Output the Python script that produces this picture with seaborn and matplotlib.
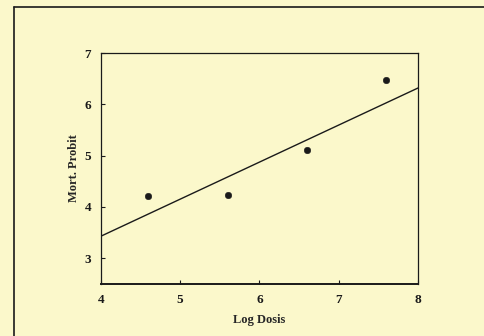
import matplotlib
matplotlib.use("Agg")
import matplotlib.pyplot as plt
import pandas as pd
import seaborn as sns

sns.set_style("ticks")
plt.rcParams["font.family"] = ["Liberation Serif", "DejaVu Serif"]

bgYellow = "#fbf8cb"
ink = "#1a1a1a"

# observed points
log_dosis = [4.6, 5.6, 6.6, 7.6]
probit = [4.22, 4.24, 5.12, 6.47]

# fitted probit line
fit_x = [4.0, 8.0]
fit_y = [3.43, 6.32]

df = pd.DataFrame({"dose": log_dosis, "probit": probit})
fit = pd.DataFrame({"dose": fit_x, "probit": fit_y})

fig = plt.figure(figsize=(4.85, 3.36), dpi=100)
fig.patch.set_facecolor(bgYellow)
ax = fig.add_axes([0.208, 0.155, 0.654, 0.687])
ax.set_facecolor(bgYellow)

sns.lineplot(data=fit, x="dose", y="probit", ax=ax, color=ink, linewidth=1.0)
sns.scatterplot(data=df, x="dose", y="probit", ax=ax, color=ink, s=22, edgecolor=ink, zorder=3)

ax.set_xlim(4, 8)
ax.set_ylim(2.5, 7)
ax.set_xticks([4, 5, 6, 7, 8])
ax.set_yticks([3, 4, 5, 6, 7])
ax.tick_params(direction="in", length=3, width=0.8, colors=ink, labelsize=9.5, pad=7)
for lab in ax.get_xticklabels() + ax.get_yticklabels():
    lab.set_fontweight("bold")

for side in ["top", "right", "left"]:
    ax.spines[side].set_visible(True)
    ax.spines[side].set_linewidth(0.9)
    ax.spines[side].set_color(ink)
ax.spines["bottom"].set_linewidth(1.4)
ax.spines["bottom"].set_color(ink)

ax.set_xlabel("Log Dosis", fontsize=9, fontweight="bold", labelpad=6)
ax.set_ylabel("Mort. Probit", fontsize=9, fontweight="bold", labelpad=3)

# outer frame of the scanned figure (left and top edges)
fig.add_artist(plt.Line2D([0.029, 0.029], [0.0, 0.98], transform=fig.transFigure, color=ink, linewidth=1.2))
fig.add_artist(plt.Line2D([0.029, 1.0], [0.98, 0.98], transform=fig.transFigure, color=ink, linewidth=1.2))

fig.savefig("out.png", dpi=100, facecolor=bgYellow)
